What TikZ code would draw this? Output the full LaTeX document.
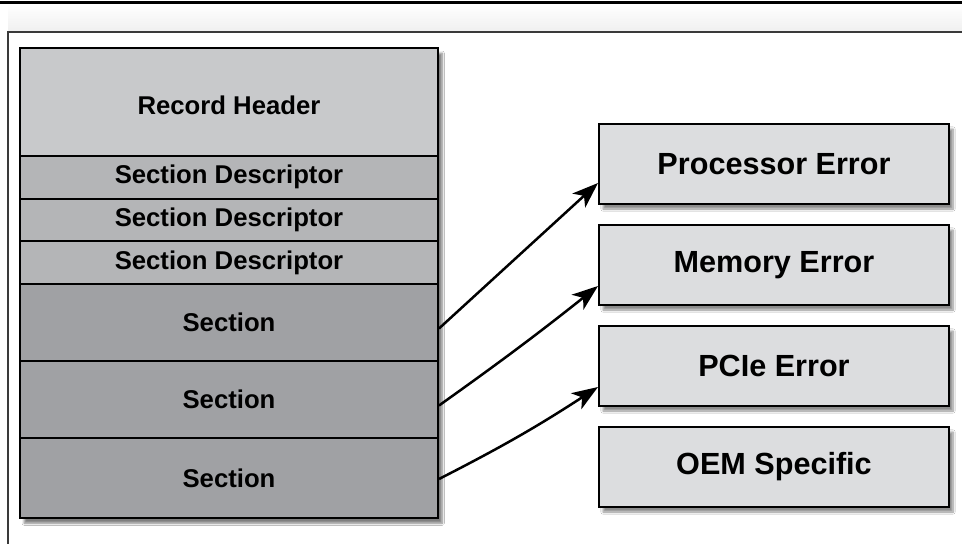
\documentclass[tikz,border=0pt]{standalone}
\usepackage{fontspec}
\setmainfont{Liberation Sans}
\usetikzlibrary{arrows.meta,shadows.blur,calc}
\definecolor{hdrfill}{HTML}{C8C9CB}
\definecolor{descfill}{HTML}{B4B5B7}
\definecolor{secfill}{HTML}{A0A1A4}
\definecolor{errfill}{HTML}{DCDDDF}
\definecolor{framecol}{HTML}{3A3A3A}
\tikzset{
  cell/.style={draw=black, line width=2pt, inner sep=0pt, anchor=north west,
    minimum width=418pt, font=\fontsize{25.7}{30}\selectfont\bfseries},
  errbox/.style={draw=black, line width=2pt, inner sep=0pt, anchor=north west,
    fill=errfill, minimum width=350pt, minimum height=80pt,
    font=\fontsize{30.6}{36}\selectfont\bfseries,
    blur shadow={shadow xshift=4pt, shadow yshift=-5pt, shadow blur steps=8, shadow opacity=45}},
  link/.style={line width=2.5pt, -{Stealth[length=26pt,width=19pt,inset=7pt]}}
}
\begin{document}
\begin{tikzpicture}[x=1pt,y=-1pt]
\useasboundingbox (0,0) rectangle (962,544);
\fill[white] (0,0) rectangle (962,544);
% top rule and frame
\draw[line width=3pt, black] (0,2) -- (962,2);
\shade[top color=white, bottom color=black!6] (8,4) rectangle (962,31);
\draw[line width=2pt, framecol] (962,32) -- (8,32) -- (8,544);
% stack shadow
\node[anchor=north west, minimum width=418pt, minimum height=470pt, inner sep=0pt,
  fill=secfill, blur shadow={shadow xshift=5pt, shadow yshift=-6pt, shadow blur steps=8, shadow opacity=50}] (stackbg) at (19,47) {};
% left stack
\node[cell, fill=hdrfill, minimum height=108pt] (hdr) at (19,47) {};
\node at ($(hdr.center)+(0,3)$) {\fontsize{25.7}{30}\selectfont\bfseries Record Header};
\node[cell, fill=descfill, minimum height=42.5pt] (d1) at (19,155) {Section Descriptor};
\node[cell, fill=descfill, minimum height=42.5pt] (d2) at (19,197.5) {Section Descriptor};
\node[cell, fill=descfill, minimum height=43pt] (d3) at (19,240) {Section Descriptor};
\node[cell, fill=secfill, minimum height=77pt] (s1) at (19,283) {Section};
\node[cell, fill=secfill, minimum height=77pt] (s2) at (19,360) {Section};
\node[cell, fill=secfill, minimum height=80pt] (s3) at (19,437) {Section};
% right boxes
\node[errbox] (proc) at (598,123) {Processor Error};
\node[errbox] (mem) at (598,224) {Memory Error};
\node[errbox] (pcie) at (598,325) {PCIe Error};
\node[errbox] (oem) at (598,426) {OEM Specific};
% connectors
\draw[link] ([yshift=-6pt]s1.east) -- ([yshift=-19pt]proc.west);
\draw[link] ([yshift=-6pt]s2.east) to[bend right=1.5] ([yshift=-21pt]mem.west);
\draw[link] ([yshift=-1pt]s3.east) to[bend right=3] ([yshift=-21pt]pcie.west);
\end{tikzpicture}
\end{document}
